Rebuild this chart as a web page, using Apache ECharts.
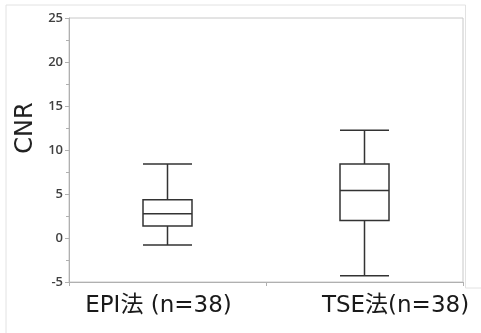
<!DOCTYPE html>
<html>
<head>
<meta charset="utf-8">
<script src="https://cdn.jsdelivr.net/npm/echarts@6/dist/echarts.min.js"></script>
<style>
  html, body { margin: 0; padding: 0; background: #fff; }
  #chart { width: 481px; height: 333px; }
</style>
</head>
<body>
<div id="chart"></div>
<script>
// Groups compared
const categories = ['EPI法 (n=38)', 'TSE法(n=38)'];
// Box statistics per group: [lower whisker, Q1, median, Q3, upper whisker]
const epiStats = [-0.8, 1.35, 2.75, 4.35, 8.4];
const tseStats = [-4.3, 2.0, 5.4, 8.4, 12.25];
// Y axis range and step
const yMin = -5;
const yMax = 25;
const yStep = 5;

// Horizontal nudge of each category label (left / right padding in px)
const labelPads = [[0, 18, 0, 0], [0, 0, 0, 62]];

const chart = echarts.init(document.getElementById('chart'), null, { renderer: 'canvas' });

const labelFont = '"DejaVu Sans", "Noto Sans CJK JP", sans-serif';

chart.setOption({
  animation: false,
  backgroundColor: '#ffffff',
  grid: {
    left: 69, right: 18, top: 18, bottom: 51,
    show: true, borderColor: '#c8c8c8', borderWidth: 1
  },
  graphic: [
    {
      type: 'polyline',
      shape: { points: [[6, 333], [6, 5], [465.5, 5], [465.5, 288], [481, 288]] },
      style: { stroke: '#e2e2e2', lineWidth: 1, fill: null },
      silent: true
    },
    {
      type: 'text',
      x: 26,
      y: 128,
      rotation: Math.PI / 2,
      style: {
        text: 'CNR',
        font: '24px "DejaVu Sans", sans-serif',
        fill: '#222',
        align: 'center',
        verticalAlign: 'middle'
      }
    }
  ],
  xAxis: {
    type: 'category',
    data: categories,
    axisLine: { onZero: false, lineStyle: { color: '#b0b0b0' } },
    axisTick: { show: true, length: 4, interval: 0, lineStyle: { color: '#b0b0b0' } },
    axisLabel: {
      margin: 13,
      formatter: function (value, idx) {
        return '{c' + idx + '|' + value + '}';
      },
      rich: {
        c0: { fontSize: 23, color: '#1a1a1a', fontFamily: labelFont, padding: labelPads[0] },
        c1: { fontSize: 23, color: '#1a1a1a', fontFamily: labelFont, padding: labelPads[1] }
      }
    }
  },
  yAxis: {
    type: 'value',
    min: yMin,
    max: yMax,
    interval: yStep,
    axisLine: { show: true, lineStyle: { color: '#b0b0b0' } },
    axisTick: { show: true, length: 4, lineStyle: { color: '#b0b0b0' } },
    minorTick: { show: true, splitNumber: 2, length: 3, lineStyle: { color: '#b0b0b0' } },
    splitLine: { show: false },
    axisLabel: {
      margin: 6,
      fontSize: 13,
      fontWeight: 600,
      color: '#404040',
      fontFamily: '"Open Sans", "Noto Sans", sans-serif'
    }
  },
  series: [
    {
      type: 'boxplot',
      boxWidth: [49, 49],
      itemStyle: { color: '#ffffff', borderColor: '#333333', borderWidth: 1.5 },
      data: [epiStats, tseStats]
    }
  ]
});
</script>
</body>
</html>
